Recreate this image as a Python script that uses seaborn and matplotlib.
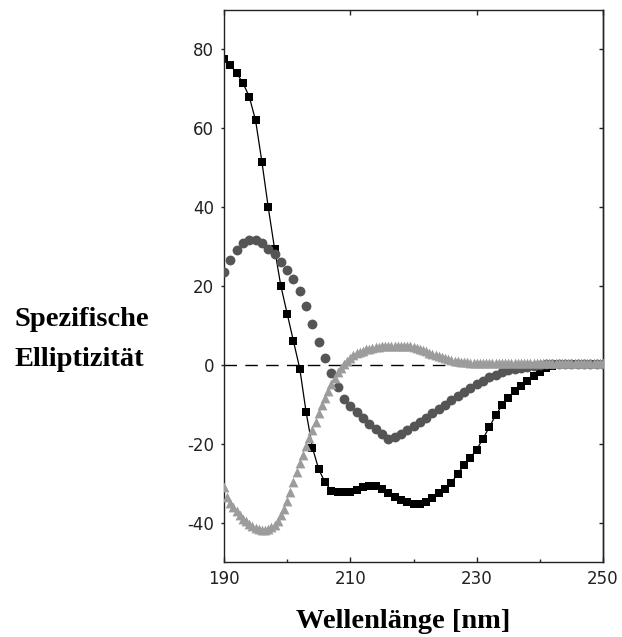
import numpy as np
import pandas as pd
import matplotlib
matplotlib.use("Agg")
import matplotlib.pyplot as plt
import seaborn as sns

# ---------------- data ----------------
wl_1nm = list(range(190, 251))            # wavelength grid for squares and circles (nm)
wl_half = [190 + 0.5 * i for i in range(121)]  # wavelength grid for triangles (nm)

squares = [77.5, 76.0, 74.0, 71.5, 68.0, 62.0, 51.5, 40.0, 29.5, 20.0,
           13.0, 6.0, -1.0, -12.0, -21.0, -26.5, -29.8, -31.9, -32.2, -32.3,
           -32.2, -31.7, -31.0, -30.6, -30.8, -31.5, -32.4, -33.4, -34.3, -34.9,
           -35.2, -35.2, -34.7, -33.7, -32.6, -31.6, -29.9, -27.6, -25.4, -23.5,
           -21.5, -18.7, -15.8, -12.8, -10.3, -8.3, -6.7, -5.3, -4.1, -2.8,
           -1.7, -0.9, -0.4, 0.2, 0.3, 0.3, 0.3, 0.3, 0.3, 0.3, 0.3]

circles = [23.5, 26.5, 29.2, 30.9, 31.7, 31.7, 30.8, 29.5, 28.0, 26.2,
           24.1, 21.8, 18.7, 14.9, 10.4, 5.8, 1.8, -2.0, -5.6, -8.7,
           -10.4, -11.9, -13.4, -14.9, -16.3, -17.6, -18.7, -18.4, -17.5, -16.5,
           -15.5, -14.5, -13.4, -12.3, -11.2, -10.1, -9.0, -7.9, -6.8, -5.8,
           -4.9, -4.0, -3.2, -2.5, -1.9, -1.4, -1.0, -0.7, -0.5, -0.3,
           -0.1, 0.2, 0.3, 0.3, 0.3, 0.3, 0.3, 0.3, 0.3, 0.3, 0.3]

triangles = [-31.0, -33.5, -35.0, -36.0, -37.0, -38.0, -39.0, -39.7, -40.3, -40.9,
             -41.3, -41.6, -41.8, -41.8, -41.6, -41.2, -40.6, -39.6, -38.2, -36.6,
             -34.6, -32.3, -29.8, -27.3, -25.0, -22.8, -20.6, -18.5, -16.4, -14.4,
             -12.3, -10.3, -8.4, -6.6, -4.9, -3.3, -1.9, -0.7, 0.3, 1.1,
             1.8, 2.4, 2.9, 3.3, 3.6, 3.9, 4.1, 4.3, 4.5, 4.6,
             4.7, 4.8, 4.85, 4.9, 4.9, 4.9, 4.9, 4.85, 4.8, 4.7,
             4.5, 4.3, 4.0, 3.7, 3.4, 3.1, 2.8, 2.5, 2.2, 1.9,
             1.7, 1.5, 1.3, 1.1, 0.9, 0.8, 0.7, 0.6, 0.5, 0.45] + [0.4] * 41

x_ticks = [190, 210, 230, 250]
x_minor = [200, 220, 240]
y_ticks = [-40, -20, 0, 20, 40, 60, 80]
y_labels = ["-40", "-20", "0", "20", "40", "60", "80"]

ylabel_lines = ["Spezifische", "Elliptizität"]
xlabel = "Wellenlänge [nm]"

# ---------------- style ----------------
sns.set_style("ticks")
plt.rcParams["font.family"] = ["DejaVu Sans"]
plt.rcParams["axes.unicode_minus"] = False

W, H = 622, 637
fig = plt.figure(figsize=(W / 100, H / 100), dpi=100)
ax = fig.add_axes([224 / W, 1 - 562 / H, (603 - 224) / W, (562 - 10) / H])

df_sq = pd.DataFrame({"wl": wl_1nm, "val": squares})
df_ci = pd.DataFrame({"wl": wl_1nm, "val": circles})
df_tr = pd.DataFrame({"wl": wl_half, "val": triangles})

ax.axhline(0, color="black", lw=1.0, linestyle=(0, (9, 6)), zorder=1)

sns.lineplot(data=df_sq, x="wl", y="val", ax=ax, color="black", lw=0.9,
             marker="s", markersize=6.2, markeredgewidth=0, zorder=2, sort=True)
sns.scatterplot(data=df_ci, x="wl", y="val", ax=ax, color="#555555",
                marker="o", s=50, linewidth=0, zorder=3)
sns.scatterplot(data=df_tr, x="wl", y="val", ax=ax, color="#9c9c9c",
                marker="^", s=50, linewidth=0, zorder=4)

ax.set_xlim(190, 250)
ax.set_ylim(-50, 90)
ax.set_xticks(x_ticks)
ax.set_xticks(x_minor, minor=True)
ax.set_yticks(y_ticks)
ax.set_yticklabels(y_labels)
ax.set_xlabel("")
ax.set_ylabel("")

for sp in ax.spines.values():
    sp.set_visible(True)
    sp.set_linewidth(1.0)
    sp.set_color("#222222")

ax.tick_params(axis="x", which="major", direction="in", top=True, length=3.5,
               width=1.0, labelsize=12, pad=6, colors="#222222")
ax.tick_params(axis="x", which="minor", direction="in", top=False, length=2.2,
               width=1.0)
ax.tick_params(axis="y", which="major", direction="out", right=False, length=2.2,
               width=1.0, labelsize=12, pad=5, colors="#222222")

sec = ax.secondary_yaxis("right")
sec.set_yticks(y_ticks)
sec.set_yticklabels([])
sec.tick_params(direction="in", length=3, width=1.0, colors="#222222")
sec.spines["right"].set_linewidth(1.0)
sec.spines["right"].set_color("#222222")

serif = dict(family="Liberation Serif", weight="bold", size=20.5, color="black")
fig.text(15 / W, 1 - 326 / H, ylabel_lines[0], ha="left", va="baseline", **serif)
fig.text(15 / W, 1 - 366 / H, ylabel_lines[1], ha="left", va="baseline", **serif)
fig.text(403 / W, 1 - 628 / H, xlabel, ha="center", va="baseline", **serif)

fig.savefig("out.png", dpi=100)
